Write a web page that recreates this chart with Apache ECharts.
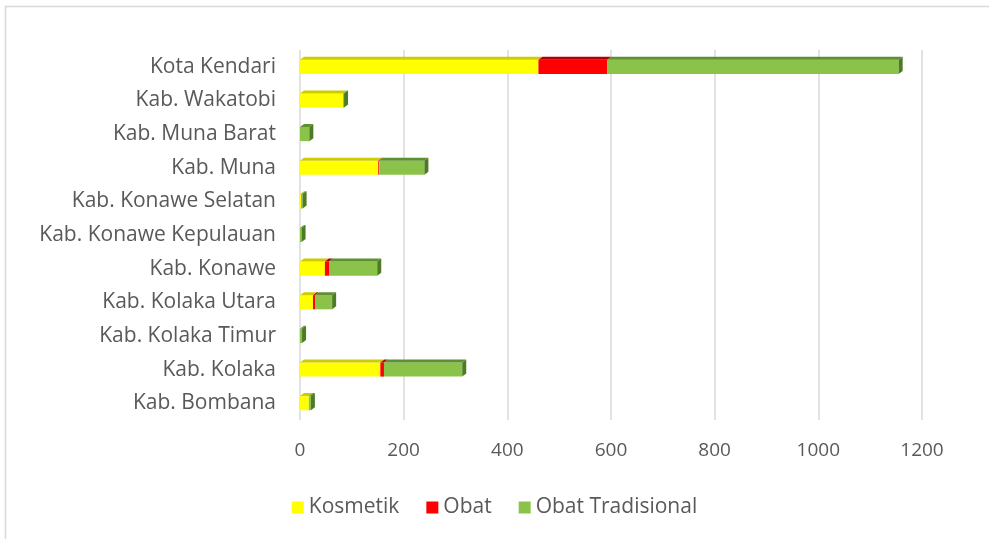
<!DOCTYPE html>
<html><head><meta charset="utf-8">
<script src="https://cdn.jsdelivr.net/npm/echarts@6/dist/echarts.min.js"></script>
<style>html,body{margin:0;padding:0;background:#fff}#c{width:989px;height:539px}</style>
</head><body><div id="c"></div>
<script>
const categories = ["Kab. Bombana","Kab. Kolaka","Kab. Kolaka Timur","Kab. Kolaka Utara","Kab. Konawe","Kab. Konawe Kepulauan","Kab. Konawe Selatan","Kab. Muna","Kab. Muna Barat","Kab. Wakatobi","Kota Kendari"];
const kosmetik = [17,155,0,25,48,0,2,151,0,83,460];
const obat = [0,7,0,4,8,0,0,2,0,0,133];
const obatTradisional = [4,151,4,33,93,3,3,87,18,2,562];
const xTicks = [0,200,400,600,800,1000,1200];

const font = '"Open Sans"';
const DX = 4, DY = -3;
const chart = echarts.init(document.getElementById('c'));
const nz = a => a.map(v => v === 0 ? null : v);
const mk = (name, data, color) => ({
  name, type:'bar', stack:'t', data:nz(data), barWidth:'42%',
  itemStyle:{color}, emphasis:{disabled:true}, z:2
});
const seriesData = [kosmetik, obat, obatTradisional];
const topColors = ['#cccc00','#b00000','#5e8f30'];
const segs = [];
categories.forEach((c, i) => {
  let acc = 0;
  seriesData.forEach((arr, s) => {
    if (arr[i] > 0) { segs.push([acc, acc + arr[i], i, s]); acc += arr[i]; }
  });
});
const totals = categories.map((c, i) => {
  let last = 0; seriesData.forEach((arr, s) => { if (arr[i] > 0) last = s; });
  return [kosmetik[i] + obat[i] + obatTradisional[i], i, last];
});
const sideColors = ['#b8b800','#a00000','#4d7a25'];
chart.setOption({
  animation:false,
  graphic:[{type:'rect',shape:{x:5.5,y:6.5,width:1000,height:540},style:{fill:'none',stroke:'#d9d9d9',lineWidth:1.5}}],
  legend:{bottom:16,left:'center',itemWidth:12,itemHeight:12,itemGap:27,icon:'rect',
    textStyle:{color:'#595959',fontSize:21,fontFamily:font},
    data:['Kosmetik','Obat','Obat Tradisional']},
  grid:{left:300,right:67,top:50,bottom:119},
  xAxis:{type:'value',min:xTicks[0],max:xTicks[xTicks.length-1],interval:200,
    axisLine:{show:false},axisTick:{show:false},
    axisLabel:{color:'#595959',fontSize:19,fontFamily:font,margin:21,formatter:v=>String(v)},
    splitLine:{lineStyle:{color:'#d9d9d9',width:1.5}}},
  yAxis:{type:'category',data:categories,
    axisLine:{show:false},axisTick:{show:false},
    axisLabel:{color:'#595959',fontSize:21,fontFamily:font,margin:24}},
  series:[
    mk('Kosmetik',kosmetik,'#ffff00'),
    mk('Obat',obat,'#ff0000'),
    mk('Obat Tradisional',obatTradisional,'#8bc34a'),
    {type:'custom', data:segs, z:3, silent:true, encode:{x:[0,1],y:2},
     renderItem:(params, api) => {
       const p0 = api.coord([api.value(0), api.value(2)]);
       const p1 = api.coord([api.value(1), api.value(2)]);
       const h = api.size([0,1])[1] * 0.42;
       const yt = p0[1] - h/2;
       return {type:'polygon', shape:{points:[[p0[0],yt],[p0[0]+DX,yt+DY],[p1[0]+DX,yt+DY],[p1[0],yt]]},
         style:{fill:topColors[api.value(3)]}};
     }},
    {type:'custom', data:totals, z:3, silent:true, encode:{x:0,y:1},
     renderItem:(params, api) => {
       const p = api.coord([api.value(0), api.value(1)]);
       const h = api.size([0,1])[1] * 0.42;
       const yt = p[1] - h/2, yb = p[1] + h/2;
       return {type:'polygon', shape:{points:[[p[0],yt],[p[0]+DX,yt+DY],[p[0]+DX,yb+DY],[p[0],yb]]},
         style:{fill:sideColors[api.value(2)]}};
     }}
  ]
});
</script></body></html>
